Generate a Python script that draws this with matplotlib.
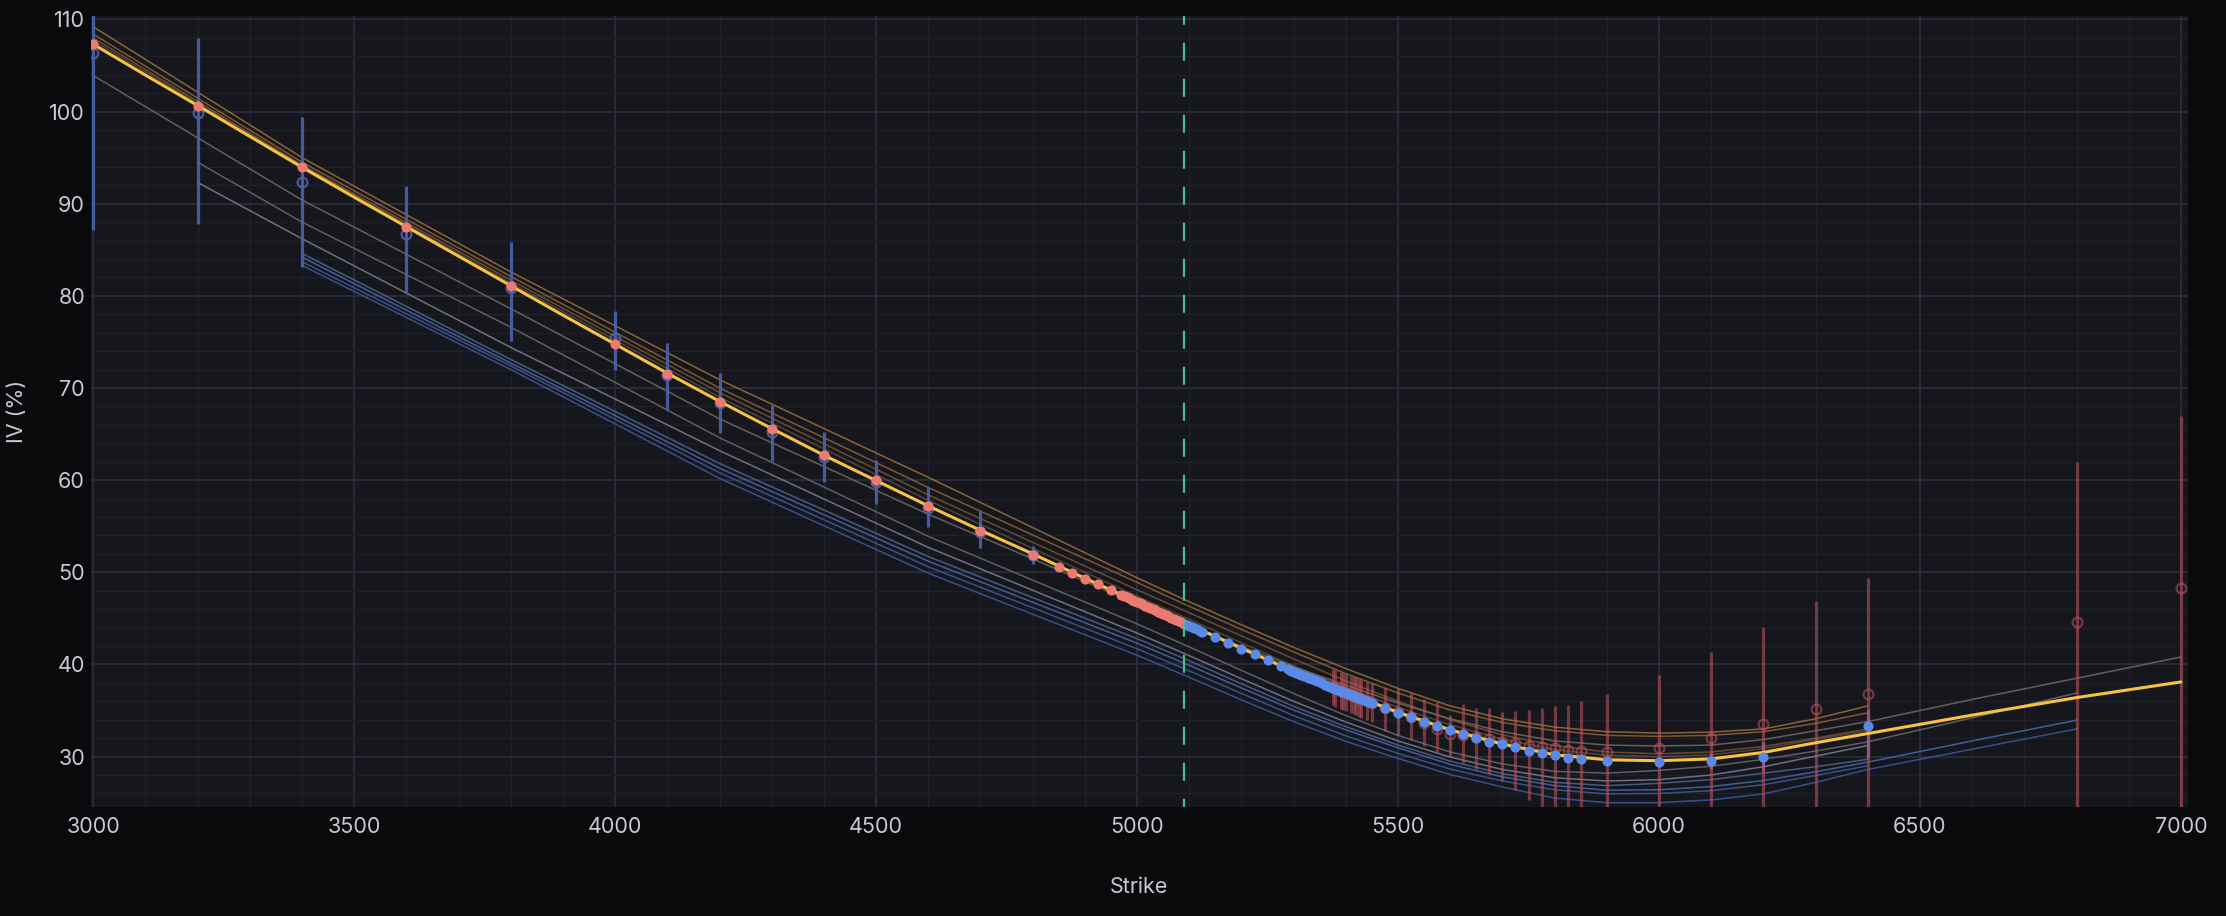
import numpy as np
import matplotlib
matplotlib.use("Agg")
import matplotlib.pyplot as plt
from matplotlib.ticker import MultipleLocator

plt.rcParams['font.family'] = ['Inter', 'DejaVu Sans']

# ---- data ----
spot = 5090

# fitted smile (yellow)
fit_k = [3000, 3100, 3200, 3300, 3400, 3500, 3600, 3700, 3800, 3900, 4000, 4100, 4200, 4300,
         4400, 4500, 4600, 4700, 4800, 4900, 5000, 5100, 5200, 5300, 5400, 5500, 5600, 5700,
         5800, 5900, 6000, 6100, 6200, 6300, 6400, 6500, 6600, 6700, 6800, 6900, 7000]
fit_v = [107.3, 103.95, 100.65, 97.3, 93.95, 90.7, 87.5, 84.3, 81.1, 77.9, 74.75, 71.6, 68.55, 65.6,
         62.7, 59.95, 57.2, 54.55, 52.0, 49.35, 46.8, 44.3, 41.75, 39.25, 36.95, 34.8, 32.9, 31.35,
         30.2, 29.65, 29.55, 29.75, 30.45, 31.5, 32.5, 33.5, 34.5, 35.45, 36.4, 37.25, 38.1]

# other smiles (thin lines)
k_long = [3000, 3400, 3800, 4200, 4600, 5000, 5100, 5200, 5300, 5400, 5500, 5600, 5700, 5800,
          5900, 6000, 6100, 6200, 6300, 6400]
v_oa = [109.2, 95.0, 82.6, 70.9, 60.3, 49.4, 46.8, 44.3, 41.85, 39.55, 37.4, 35.5, 34.1, 33.2,
        32.7, 32.55, 32.65, 33.0, 34.1, 35.5]
v_ob = [108.4, 94.5, 82.1, 70.0, 59.2, 48.9, 46.3, 43.8, 41.35, 39.0, 36.9, 35.05, 33.7, 32.8,
        32.3, 32.2, 32.3, 32.7, 33.6, 34.75]
v_oc = [108.0, 94.2, 81.7, 69.5, 58.4, 48.1, 45.6, 43.1, 40.6, 38.2, 36.0, 34.0, 32.35, 31.2,
        30.5, 30.3, 30.5, 31.1, 32.0, 33.0]
v_od = [107.7, 94.1, 81.4, 69.0, 57.8, 47.4, 44.9, 42.35, 39.85, 37.5, 35.35, 33.45, 31.9, 30.75,
        30.15, 30.0, 30.2, 30.85, 31.85, 32.8]

k_g = [3000, 3400, 3800, 4200, 4600, 5000, 5100, 5200, 5300, 5400, 5500, 5600, 5700, 5800,
       5900, 6000, 6100, 6200, 6300, 6400, 6600, 6800, 7000]
v_g = [103.9, 90.4, 78.6, 66.65, 56.3, 46.6, 44.3, 41.95, 39.75, 37.75, 35.8, 34.1, 32.7, 31.7,
       31.25, 31.15, 31.25, 31.85, 32.8, 33.8, 36.2, 38.5, 40.8]

k_s1 = [3200, 3400, 3800, 4200, 4600, 5000, 5100, 5200, 5300, 5400, 5500, 5600, 5700, 5800,
        5900, 6000, 6100, 6200, 6300, 6400, 6600, 6800]
v_s1 = [94.5, 88.0, 76.6, 64.6, 53.9, 44.4, 41.9, 39.35, 36.85, 34.45, 32.3, 30.5, 29.2, 28.4,
        28.2, 28.5, 28.95, 29.7, 30.6, 31.6, 34.2, 36.9]
k_s2 = [3200, 3400, 3800, 4200, 4600, 5000, 5100, 5200, 5300, 5400, 5500, 5600, 5700, 5800,
        5900, 6000, 6100, 6200, 6300, 6400]
v_s2 = [92.3, 86.2, 74.4, 63.2, 52.7, 43.4, 40.95, 38.45, 36.0, 33.75, 31.7, 29.95, 28.6, 27.7,
        27.35, 27.5, 28.0, 28.9, 30.05, 31.2]

k_b = [3400, 3800, 4200, 4600, 5000, 5100, 5200, 5300, 5400, 5500, 5600, 5700, 5800, 5900,
       6000, 6100, 6200, 6300, 6400]
k_b_ext = [3400, 3800, 4200, 4600, 5000, 5100, 5200, 5300, 5400, 5500, 5600, 5700, 5800, 5900,
           6000, 6100, 6200, 6300, 6400, 6600, 6800]
v_b1 = [84.6, 73.1, 61.8, 51.7, 42.8, 40.4, 37.9, 35.45, 33.25, 31.25, 29.5, 28.15, 27.2, 26.85,
        27.1, 27.5, 28.2, 28.9, 29.7]
v_b2 = [84.2, 72.7, 61.3, 51.2, 42.3, 39.9, 37.45, 35.05, 32.9, 30.95, 29.15, 27.8, 26.85, 26.35,
        26.4, 26.75, 27.4, 28.35, 29.4, 31.7, 33.95]
v_b3 = [83.7, 72.4, 60.8, 50.6, 41.7, 39.3, 36.85, 34.45, 32.25, 30.35, 28.65, 27.35, 26.4, 25.95,
        26.0, 26.3, 26.95, 27.95, 29.0]
v_b4 = [83.3, 72.0, 60.2, 49.9, 41.0, 38.6, 36.15, 33.8, 31.65, 29.8, 28.05, 26.7, 25.5, 25.0,
        25.0, 25.3, 25.95, 27.2, 28.6, 30.8, 33.0]

# OTM puts (filled red)
put_k = [3000, 3200, 3400, 3600, 3800, 4000, 4100, 4200, 4300, 4400, 4500, 4600, 4700, 4800,
         4850, 4875, 4900, 4925, 4950,
         4970, 4975, 4980, 4985, 4990, 4995, 5000, 5005, 5010, 5015, 5020, 5025, 5030,
         5035, 5040, 5045, 5050, 5055, 5060, 5065, 5070, 5075, 5080, 5085, 5090]
put_v = [107.3, 100.6, 94.0, 87.5, 81.1, 74.75, 71.55, 68.5, 65.5, 62.7, 60.0, 57.2, 54.5, 51.9,
         50.6, 49.95, 49.3, 48.7, 48.05,
         47.55, 47.42, 47.29, 47.16, 47.03, 46.9, 46.77, 46.64, 46.51, 46.38, 46.25, 46.12, 45.99,
         45.86, 45.73, 45.6, 45.47, 45.34, 45.21, 45.08, 44.95, 44.82, 44.69, 44.56, 44.43]

# OTM calls (filled blue)
call_k = [5095, 5100, 5105, 5110, 5115, 5120, 5125, 5150, 5175, 5200, 5225, 5250, 5275,
          5290, 5295, 5300, 5305, 5310, 5315, 5320, 5325, 5330, 5335, 5340, 5345, 5350, 5355,
          5360, 5365, 5370, 5375, 5380, 5385, 5390, 5395, 5400, 5405, 5410, 5415, 5420, 5425,
          5430, 5435, 5440, 5445, 5450,
          5475, 5500, 5525, 5550, 5575, 5600, 5625, 5650, 5675, 5700, 5725, 5750, 5775, 5800,
          5825, 5850, 5900, 6000, 6100, 6200, 6400]
call_v = [44.3, 44.18, 44.05, 43.93, 43.8, 43.68, 43.55, 43.0, 42.3, 41.7, 41.1, 40.45, 39.85,
          39.45, 39.33, 39.22, 39.1, 38.98, 38.87, 38.75, 38.63, 38.52, 38.4, 38.28, 38.17, 38.05, 37.94,
          37.82, 37.71, 37.6, 37.48, 37.37, 37.26, 37.15, 37.04, 36.93, 36.82, 36.71, 36.6, 36.49, 36.38,
          36.27, 36.16, 36.05, 35.95, 35.85,
          35.3, 34.7, 34.3, 33.75, 33.3, 32.9, 32.5, 32.0, 31.6, 31.35, 31.0, 30.6, 30.4, 30.15,
          29.9, 29.7, 29.5, 29.4, 29.5, 30.0, 33.3]

# put-side quotes (hollow blue + bid/ask bars)
pq_k = [3000, 3200, 3400, 3600, 3800, 4000, 4100, 4200, 4300, 4400, 4500, 4600, 4700, 4800]
pq_v = [106.3, 99.8, 92.4, 86.7, 80.8, 75.4, 71.4, 68.4, 65.2, 62.5, 59.8, 57.0, 54.4, 51.9]
pq_lo = [87.1, 87.8, 83.1, 80.4, 75.1, 72.0, 67.6, 65.1, 62.1, 59.8, 57.4, 54.9, 52.6, 50.95]
pq_hi = [118.0, 108.0, 99.4, 91.9, 85.8, 78.3, 74.9, 71.6, 68.2, 65.2, 62.2, 59.3, 56.6, 52.9]

# call-side bars on the far wing (blue)
cq_k = [6100, 6200, 6400]
cq_lo = [28.6, 28.4, 29.8]
cq_hi = [30.4, 31.6, 35.2]

# call-side quotes (hollow red + bid/ask bars)
rq_k = [5375, 5380, 5390, 5395, 5400, 5410, 5415, 5420, 5425, 5430, 5440, 5450,
        5475, 5500, 5525, 5550, 5575, 5600, 5625, 5650, 5675, 5700, 5725, 5750, 5775, 5800,
        5825, 5850, 5900, 6000, 6100, 6200, 6300, 6400, 6800, 7000]
rq_v = [37.5, 37.4, 37.15, 37.05, 36.9, 36.7, 36.6, 36.5, 36.4, 36.25, 36.05, 35.85,
        35.3, 34.8, 34.3, 33.6, 33.0, 32.4, 32.3, 32.1, 31.9, 31.6, 31.5, 31.2, 31.05, 30.9,
        30.7, 30.6, 30.5, 30.9, 32.0, 33.5, 35.2, 36.8, 44.6, 48.3]
rq_lo = [35.6, 35.4, 35.2, 35.1, 35.0, 34.7, 34.6, 34.5, 34.3, 34.2, 34.0, 33.8,
         32.8, 32.3, 31.8, 31.2, 30.5, 30.0, 29.3, 28.7, 28.1, 27.35, 26.4, 25.3, 24.0, 23.5,
         23.0, 22.5, 22.0, 20.0, 20.0, 20.0, 20.0, 20.0, 20.0, 20.0]
rq_hi = [39.45, 39.4, 39.2, 39.1, 38.95, 38.7, 38.6, 38.5, 38.4, 38.3, 38.1, 37.95,
         37.6, 37.4, 36.9, 36.2, 35.9, 34.5, 35.7, 35.3, 35.3, 34.8, 35.0, 35.1, 35.3, 35.5,
         35.65, 36.0, 36.8, 38.9, 41.4, 44.1, 46.9, 49.4, 62.0, 67.0]

# ---- figure ----
BG = '#0a0a0c'
PANEL = '#16171d'
TXT = '#c9c9d2'

fig = plt.figure(figsize=(22.26, 9.16), dpi=100, facecolor=BG)
ax = fig.add_axes([0.0407, 0.1187, 0.9421, 0.8642])
ax.set_facecolor(PANEL)

thin = [
    (k_long, v_oa, '#b57c3c', 0.75),
    (k_long, v_ob, '#b57c3c', 0.65),
    (k_long, v_oc, '#a8773f', 0.55),
    (k_long, v_od, '#9a7a50', 0.45),
    (k_g, v_g, '#6f675f', 0.9),
    (k_s1, v_s1, '#66666f', 0.9),
    (k_s2, v_s2, '#7c8194', 0.85),
    (k_b, v_b1, '#4d628f', 0.9),
    (k_b_ext, v_b2, '#4567a8', 0.9),
    (k_b, v_b3, '#3e5890', 0.9),
    (k_b_ext, v_b4, '#3a5698', 0.9),
]
for k, v, c, a in thin:
    ax.plot(k, v, color=c, alpha=a, lw=1.1, zorder=2)

# bid/ask bars
ax.errorbar(pq_k, pq_v, yerr=[np.subtract(pq_v, pq_lo), np.subtract(pq_hi, pq_v)],
            fmt='o', ms=7, mfc='none', mec='#4a62a8', mew=1.6,
            ecolor='#4a62a8', elinewidth=2.3, capsize=0, alpha=0.9, zorder=3)
ax.vlines(cq_k, cq_lo, cq_hi, color='#8f86d0', lw=2.3, alpha=0.6, zorder=3)
ax.errorbar(rq_k, rq_v, yerr=[np.subtract(rq_v, rq_lo), np.subtract(rq_hi, rq_v)],
            fmt='o', ms=7, mfc='none', mec='#c0535c', mew=1.6,
            ecolor='#c0535c', elinewidth=2.3, capsize=0, alpha=0.55, zorder=3)

# fitted smile
ax.plot(fit_k, fit_v, color='#f7c244', lw=2.2, zorder=4, solid_capstyle='round')

# mid quotes
ax.plot(put_k, put_v, 'o', ms=7.3, color='#ec7a70', mec='none', zorder=5)
ax.plot(call_k, call_v, 'o', ms=7.3, color='#5b8ae6', mec='none', zorder=5)

# spot
ax.axvline(spot, color='#45c08e', lw=1.6, ls=(4.4, (8.1, 8.1)), zorder=6)

ax.set_xlim(2995, 7013)
ax.set_ylim(24.5, 110.4)
ax.xaxis.set_major_locator(MultipleLocator(500))
ax.xaxis.set_minor_locator(MultipleLocator(100))
ax.yaxis.set_major_locator(MultipleLocator(10))
ax.yaxis.set_minor_locator(MultipleLocator(2))
ax.grid(which='major', color='#2c2b3e', lw=1.3)
ax.grid(which='minor', color='#202029', lw=1.0)
ax.set_axisbelow(True)
for s in ax.spines.values():
    s.set_visible(False)
ax.tick_params(which='both', length=0, colors=TXT, labelsize=15.5)
ax.tick_params(axis='x', pad=7)
ax.tick_params(axis='y', pad=4)

ax.set_xlabel('Strike', color=TXT, fontsize=15.5)
ax.xaxis.set_label_coords(0.5, -0.088)
ax.set_ylabel('IV (%)', color=TXT, fontsize=15.5)
ax.yaxis.set_label_coords(-0.0305, 0.5)

fig.savefig('out.png', dpi=100, facecolor=BG)
